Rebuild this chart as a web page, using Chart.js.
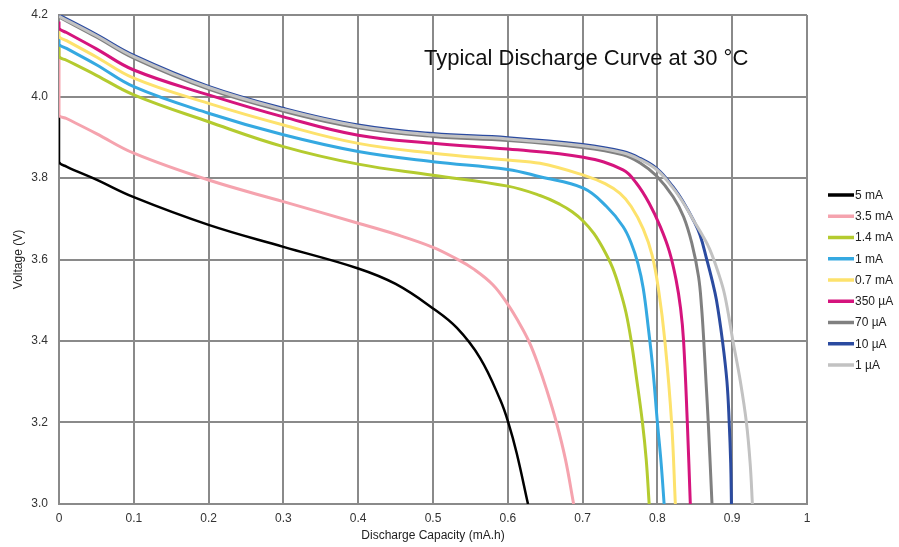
<!DOCTYPE html>
<html>
<head>
<meta charset="utf-8">
<script src="https://cdn.jsdelivr.net/npm/chart.js@4.4.0/dist/chart.umd.min.js"></script>
<style>
  html,body{margin:0;padding:0;background:#fff;}
  #wrap{width:899px;height:547px;}
</style>
</head>
<body>
<div id="wrap"><canvas id="chart" width="899" height="547"></canvas></div>
<script>
// capacity (mA.h) / voltage (V) pairs
const cap5mA = [0, 0, 0.01, 0.05, 0.1, 0.2, 0.3, 0.4, 0.45, 0.5, 0.532, 0.563, 0.59, 0.601, 0.612, 0.627];
const v5mA   = [3.95, 3.84, 3.828, 3.796, 3.753, 3.685, 3.631, 3.578, 3.54, 3.48, 3.432, 3.358, 3.255, 3.198, 3.124, 3.0];

const cap3_5mA = [0, 0, 0.01, 0.05, 0.1, 0.2, 0.3, 0.4, 0.45, 0.5, 0.532, 0.554, 0.58, 0.6, 0.615, 0.628, 0.64, 0.652, 0.665, 0.677, 0.688];
const v3_5mA   = [4.12, 3.955, 3.946, 3.909, 3.861, 3.795, 3.742, 3.689, 3.662, 3.63, 3.601, 3.577, 3.538, 3.49, 3.445, 3.40, 3.345, 3.28, 3.2, 3.11, 3.0];

const cap1_4mA = [0, 0, 0.01, 0.05, 0.1, 0.2, 0.3, 0.4, 0.5, 0.6, 0.643, 0.67, 0.686, 0.701, 0.715, 0.728, 0.74, 0.75, 0.758, 0.765, 0.772, 0.78, 0.785, 0.789];
const v1_4mA   = [4.124, 4.098, 4.089, 4.052, 4.004, 3.938, 3.877, 3.834, 3.807, 3.780, 3.757, 3.735, 3.717, 3.694, 3.664, 3.625, 3.58, 3.525, 3.47, 3.4, 3.31, 3.2, 3.11, 3.0];

const cap1mA = [0, 0, 0.01, 0.05, 0.1, 0.2, 0.3, 0.4, 0.5, 0.6, 0.643, 0.701, 0.732, 0.754, 0.765, 0.774, 0.781, 0.788, 0.794, 0.8, 0.805, 0.809];
const v1mA   = [4.141, 4.128, 4.118, 4.078, 4.024, 3.959, 3.906, 3.865, 3.840, 3.821, 3.803, 3.775, 3.730, 3.681, 3.64, 3.59, 3.53, 3.43, 3.33, 3.2, 3.1, 3.0];

const cap0_7mA = [0, 0, 0.01, 0.05, 0.1, 0.2, 0.3, 0.4, 0.5, 0.6, 0.643, 0.701, 0.73, 0.75, 0.765, 0.781, 0.793, 0.802, 0.81, 0.819, 0.824];
const v0_7mA   = [4.165, 4.147, 4.137, 4.097, 4.045, 3.983, 3.930, 3.885, 3.861, 3.844, 3.836, 3.807, 3.786, 3.762, 3.73, 3.675, 3.61, 3.52, 3.4, 3.2, 3.0];

const cap350uA = [0, 0, 0.01, 0.05, 0.1, 0.2, 0.3, 0.4, 0.5, 0.6, 0.701, 0.754, 0.772, 0.789, 0.804, 0.816, 0.825, 0.831, 0.835, 0.84, 0.844];
const v350uA   = [4.184, 4.167, 4.157, 4.117, 4.065, 4.004, 3.950, 3.905, 3.885, 3.871, 3.851, 3.820, 3.787, 3.738, 3.68, 3.62, 3.55, 3.48, 3.4, 3.2, 3.0];

const cap70uA = [0, 0.05, 0.1, 0.2, 0.3, 0.4, 0.5, 0.6, 0.7, 0.754, 0.777, 0.799, 0.821, 0.835, 0.846, 0.855, 0.859, 0.862, 0.865, 0.868, 0.873];
const v70uA   = [4.195, 4.146, 4.094, 4.018, 3.964, 3.923, 3.902, 3.892, 3.875, 3.857, 3.837, 3.805, 3.754, 3.705, 3.640, 3.558, 3.484, 3.4, 3.3, 3.2, 3.0];

const cap10uA = [0, 0.05, 0.1, 0.2, 0.3, 0.4, 0.5, 0.6, 0.7, 0.754, 0.777, 0.8, 0.821, 0.835, 0.848, 0.857, 0.866, 0.873, 0.879, 0.887, 0.893, 0.896, 0.898, 0.899];
const v10uA   = [4.2, 4.152, 4.101, 4.025, 3.971, 3.930, 3.909, 3.899, 3.882, 3.865, 3.848, 3.822, 3.778, 3.74, 3.697, 3.66, 3.60, 3.55, 3.5, 3.4, 3.3, 3.2, 3.1, 3.0];

const cap1uA = [0, 0.05, 0.1, 0.2, 0.3, 0.4, 0.5, 0.6, 0.7, 0.754, 0.777, 0.8, 0.821, 0.835, 0.848, 0.86, 0.87, 0.881, 0.89, 0.901, 0.911, 0.919, 0.924, 0.927];
const v1uA   = [4.197, 4.149, 4.098, 4.022, 3.968, 3.927, 3.906, 3.896, 3.879, 3.862, 3.845, 3.819, 3.775, 3.738, 3.697, 3.66, 3.625, 3.57, 3.513, 3.4, 3.3, 3.2, 3.1, 3.0];

const seriesLabels = ['5 mA', '3.5 mA', '1.4 mA', '1 mA', '0.7 mA', '350 µA', '70 µA', '10 µA', '1 µA'];
const seriesColors = ['#000000', '#f5a3ae', '#b4cb2f', '#35a9e1', '#fde26c', '#d5147d', '#808080', '#2b4ba0', '#c2c2c2'];
const seriesCaps = [cap5mA, cap3_5mA, cap1_4mA, cap1mA, cap0_7mA, cap350uA, cap70uA, cap10uA, cap1uA];
const seriesVolts = [v5mA, v3_5mA, v1_4mA, v1mA, v0_7mA, v350uA, v70uA, v10uA, v1uA];

const xTicks = [0, 0.1, 0.2, 0.3, 0.4, 0.5, 0.6, 0.7, 0.8, 0.9, 1];
const yTicks = [3.0, 3.2, 3.4, 3.6, 3.8, 4.0, 4.2];
const chartTitle = 'Typical Discharge Curve at 30 °C';

const FONT = '"Liberation Sans", Arial, Helvetica, sans-serif';
const GRID = '#8a8a8a';

const datasets = seriesLabels.map((label, i) => ({
  label,
  data: seriesCaps[i].map((x, j) => ({x, y: seriesVolts[i][j]})),
  borderColor: seriesColors[i],
  backgroundColor: seriesColors[i],
  borderWidth: i === 0 ? 2.5 : 3,
  pointRadius: 0,
  tension: 0.4,
  order: seriesLabels.length - i
}));

// title inside the plot + line legend on the right
const overlay = {
  id: 'overlay',
  afterDraw(chart){
    const ctx = chart.ctx;
    ctx.save();
    ctx.font = '22px ' + FONT;
    ctx.fillStyle = '#111';
    ctx.textAlign = 'left';
    ctx.textBaseline = 'alphabetic';
    ctx.fillText(chartTitle, 424, 65);

    ctx.font = '12px ' + FONT;
    ctx.textBaseline = 'middle';
    chart.data.datasets.forEach((ds, i) => {
      const y = 195 + i * 21.25;
      ctx.strokeStyle = ds.borderColor;
      ctx.lineWidth = 3.5;
      ctx.beginPath(); ctx.moveTo(828, y); ctx.lineTo(854, y); ctx.stroke();
      ctx.fillStyle = '#222';
      ctx.fillText(ds.label, 855, y + 0.5);
    });
    ctx.restore();
  }
};

new Chart(document.getElementById('chart').getContext('2d'), {
  type: 'line',
  data: {datasets},
  plugins: [overlay],
  options: {
    responsive: false,
    animation: false,
    layout: {padding: {top: 15, right: 92, bottom: 0, left: 0}},
    plugins: {legend: {display: false}, tooltip: {enabled: false}},
    scales: {
      x: {
        type: 'linear', min: 0, max: 1,
        afterBuildTicks: s => { s.ticks = xTicks.map(v => ({value: v})); },
        afterFit: s => { s.height = 43; },
        ticks: {color: '#333', font: {size: 12, family: FONT}, padding: 7, maxRotation: 0, callback: v => String(v)},
        grid: {color: GRID, lineWidth: 2, drawTicks: false},
        border: {color: GRID, width: 2},
        title: {display: true, text: 'Discharge Capacity (mA.h)', color: '#222', font: {size: 12, family: FONT}, padding: {top: 0, bottom: 4}}
      },
      y: {
        type: 'linear', min: 3.0, max: 4.2,
        afterBuildTicks: s => { s.ticks = yTicks.map(v => ({value: v})); },
        afterFit: s => { s.width = 59; s.paddingTop = 0; s.paddingBottom = 0; },
        ticks: {color: '#333', font: {size: 12, family: FONT}, padding: 11, callback: v => v.toFixed(1)},
        grid: {color: GRID, lineWidth: 2, drawTicks: false},
        border: {color: GRID, width: 2},
        title: {display: true, text: 'Voltage (V)', color: '#222', font: {size: 12, family: FONT}, padding: {top: 11, bottom: 0}}
      }
    }
  }
});
</script>
</body>
</html>
